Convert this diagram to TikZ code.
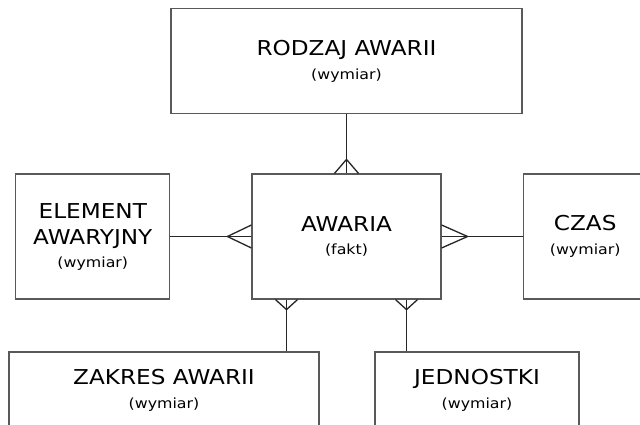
\documentclass[tikz,border=0pt]{standalone}
\usepackage{fontspec}
\setmainfont{DejaVu Sans}[FakeStretch=1.13]
\usepackage{tikz}
\usetikzlibrary{positioning}
\newcommand{\podpis}[1]{{\fontsize{14}{17}\selectfont #1}}

\begin{document}
\begin{tikzpicture}[x=1pt, y=1pt,
    encja/.style={draw=black!65, line width=1.2pt, align=center, inner sep=0pt,
      font=\fontsize{20.5}{26.5}\selectfont},
    rel/.style={draw=black!85, line width=1.3pt}]
  \useasboundingbox (0,0) rectangle (640,424);
  % fakt
  \node[encja, minimum width=189pt, minimum height=125pt] (awaria) at (346.5,187.5)
    {AWARIA\\[-3pt]\podpis{(fakt)}};
  % wymiary
  \node[encja, minimum width=351pt, minimum height=105pt, above=59pt of awaria] (rodzaj)
    {RODZAJ AWARII\\[-3pt]\podpis{(wymiar)}};
  \node[encja, minimum width=154pt, minimum height=125pt, left=81pt of awaria] (element)
    {ELEMENT\\AWARYJNY\\[-4pt]\podpis{(wymiar)}};
  \node[encja, minimum width=124pt, minimum height=125pt, right=81pt of awaria] (czas)
    {CZAS\\[-3pt]\podpis{(wymiar)}};
  \node[encja, minimum width=310pt, minimum height=77pt] (zakres) at (164,33.5)
    {ZAKRES AWARII\\[-3pt]\podpis{(wymiar)}};
  \node[encja, minimum width=204pt, minimum height=77pt] (jednostki) at (477,33.5)
    {JEDNOSTKI\\[-3pt]\podpis{(wymiar)}};
  % relacje
  \draw[rel] (rodzaj) -- (awaria);
  \draw[rel] (element) -- (awaria);
  \draw[rel] (czas) -- (awaria);
  \coordinate (zk) at ([xshift=-60pt]awaria.south);
  \coordinate (jd) at ([xshift=60pt]awaria.south);
  \draw[rel] (zk) -- (zk |- zakres.north);
  \draw[rel] (jd) -- (jd |- jednostki.north);
  % kurze lapki
  \draw[rel] ([xshift=-12pt]awaria.north) -- ([yshift=14pt]awaria.north) -- ([xshift=12pt]awaria.north);
  \draw[rel] ([yshift=11.5pt]awaria.west) -- ([xshift=-24pt]awaria.west) -- ([yshift=-11.5pt]awaria.west);
  \draw[rel] ([yshift=11.5pt]awaria.east) -- ([xshift=26pt]awaria.east) -- ([yshift=-11.5pt]awaria.east);
  \draw[rel] ([xshift=-11pt]zk) -- ([yshift=-10pt]zk) -- ([xshift=11pt]zk);
  \draw[rel] ([xshift=-11pt]jd) -- ([yshift=-10pt]jd) -- ([xshift=11pt]jd);
\end{tikzpicture}
\end{document}
